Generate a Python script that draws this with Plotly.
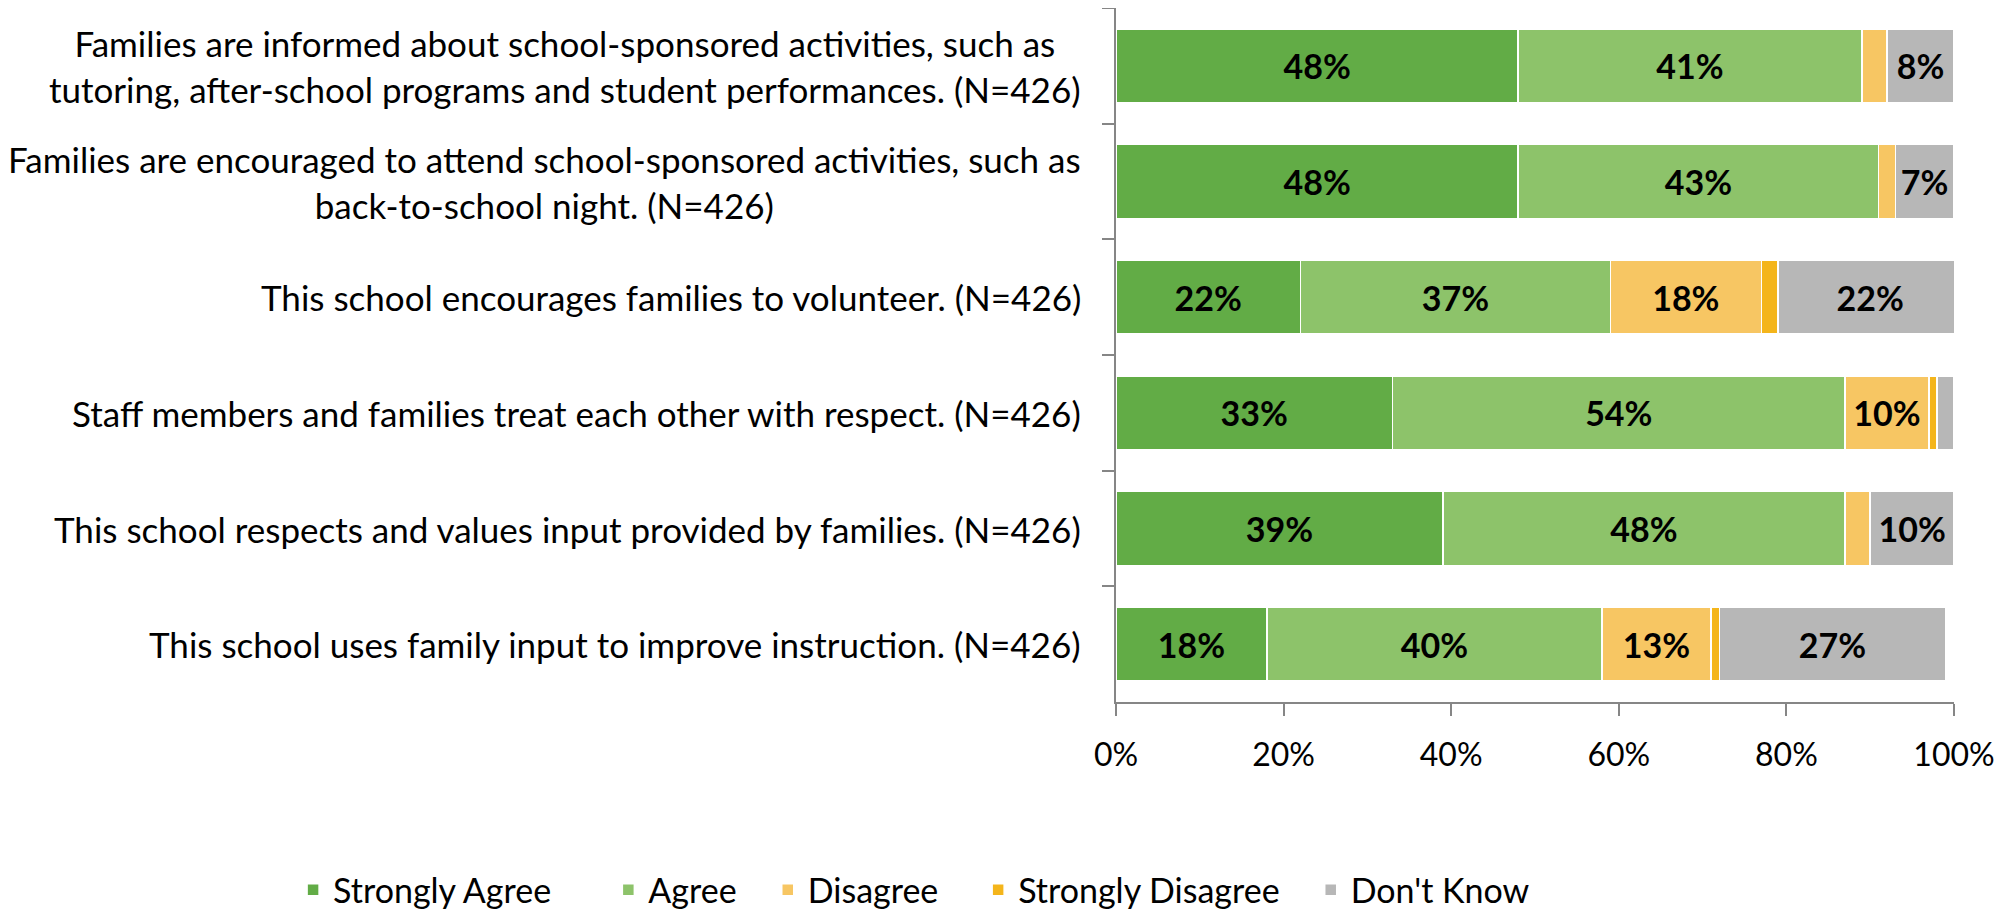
import plotly.graph_objects as go

categories = [
    "Families are informed about school-sponsored activities, such as<br>tutoring, after-school programs and student performances. (N=426)",
    "Families are encouraged to attend school-sponsored activities, such as<br>back-to-school night. (N=426)",
    "This school encourages families to volunteer. (N=426)",
    "Staff members and families treat each other with respect. (N=426)",
    "This school respects and values input provided by families. (N=426)",
    "This school uses family input to improve instruction. (N=426)",
]

strongly_agree = [48, 48, 22, 33, 39, 18]
agree = [41, 43, 37, 54, 48, 40]
disagree = [3, 2, 18, 10, 3, 13]
strongly_disagree = [0, 0, 2, 1, 0, 1]
dont_know = [8, 7, 22, 2, 10, 27]

series_names = ["Strongly Agree", "Agree", "Disagree", "Strongly Disagree", "Don't Know"]
series_values = [strongly_agree, agree, disagree, strongly_disagree, dont_know]
series_colors = ["#62AC46", "#8DC36A", "#F7C663", "#F4B51B", "#B7B7B7"]
legend_pads = [6, 3, 4, 3, 0]

x_ticks = [0, 20, 40, 60, 80, 100]
x_tick_labels = ["0%", "20%", "40%", "60%", "80%", "100%"]

FONT = "Lato, 'Liberation Sans', sans-serif"

fig = go.Figure()
for name, vals, color, pad in zip(series_names, series_values, series_colors, legend_pads):
    fig.add_trace(go.Bar(
        name=name + "\u00a0" * pad,
        y=categories,
        x=vals,
        orientation="h",
        marker=dict(color=color, line=dict(color="white", width=1.5)),
        text=[f"<b>{v}%</b>" if v >= 5 else "" for v in vals],
        textposition="inside",
        insidetextanchor="middle",
        textangle=0,
        textfont=dict(family=FONT, size=34, color="black"),
        hoverinfo="skip",
    ))

for cat in categories:
    fig.add_annotation(
        x=0, xref="paper", y=cat, yref="y",
        text=cat, showarrow=False,
        xanchor="right", yanchor="middle", align="center",
        xshift=-33,
        font=dict(family=FONT, size=35, color="black"),
    )

fig.update_layout(
    barmode="stack",
    bargap=0.36,
    width=2008,
    height=901,
    paper_bgcolor="white",
    plot_bgcolor="white",
    margin=dict(l=1108, r=62, t=0, b=207, autoexpand=False),
    font=dict(family=FONT, size=32, color="black"),
    showlegend=True,
    legend=dict(
        orientation="h",
        xref="paper",
        yref="paper",
        x=-0.982,
        xanchor="left",
        y=-0.271,
        yanchor="middle",
        font=dict(family=FONT, size=34, color="black"),
        itemwidth=30,
        traceorder="normal",
    ),
)

fig.update_xaxes(
    range=[0, 100],
    tickvals=x_ticks,
    ticktext=x_tick_labels,
    showgrid=False,
    zeroline=False,
    showline=True,
    linecolor="#868686",
    linewidth=2,
    ticks="outside",
    ticklen=12,
    tickwidth=2,
    tickcolor="#868686",
    tickfont=dict(family=FONT, size=32, color="black"),
    ticklabelstandoff=12,
)

fig.update_yaxes(
    autorange="reversed",
    showgrid=False,
    zeroline=False,
    showline=True,
    linecolor="#868686",
    linewidth=2,
    ticks="outside",
    tickson="boundaries",
    ticklen=12,
    tickwidth=2,
    tickcolor="#868686",
    showticklabels=False,
)

fig.write_html("out.html")
